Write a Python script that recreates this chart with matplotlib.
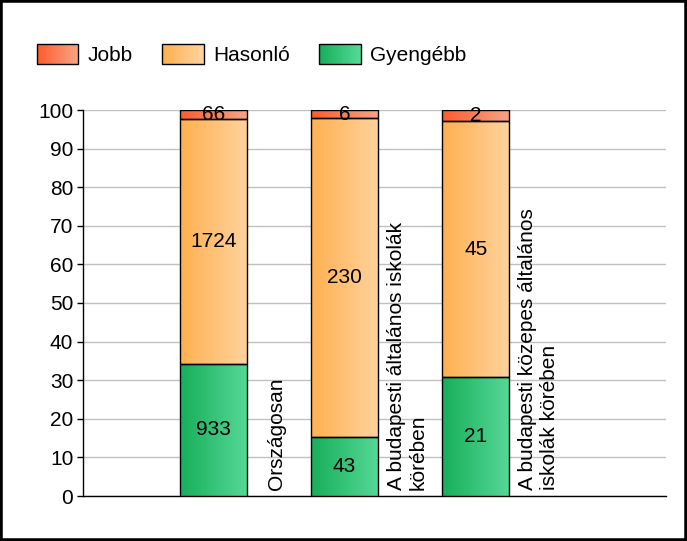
import numpy as np
import matplotlib
matplotlib.use("Agg")
import matplotlib.pyplot as plt
import matplotlib.patches as patches
from matplotlib.colors import LinearSegmentedColormap
from matplotlib.legend_handler import HandlerBase

plt.rcParams["font.family"] = ["Liberation Sans", "DejaVu Sans"]
plt.rcParams["font.size"] = 15

# Data
categories = [
    "Országosan",
    "A budapesti általános iskolák\nkörében",
    "A budapesti közepes általános\niskolák körében",
]
series_names = ["Jobb", "Hasonló", "Gyengébb"]
jobb = [66, 6, 2]
hasonlo = [1724, 230, 45]
gyengebb = [933, 43, 21]

# Gradient colours (left -> right) for each series
GRADIENTS = {
    "Jobb": ("#FF5C2C", "#F5A385"),
    "Hasonló": ("#FFB050", "#FFD29C"),
    "Gyengébb": ("#17AE5A", "#55D896"),
}


def make_cmap(name):
    return LinearSegmentedColormap.from_list(name, GRADIENTS[name])


# Legend handle drawn as a row of thin strips so it shows the same gradient
class GradientHandler(HandlerBase):
    def create_artists(self, legend, orig_handle, xdescent, ydescent, width, height, fontsize, trans):
        cmap = make_cmap(orig_handle.get_label())
        n = 24
        artists = []
        for k in range(n):
            r = patches.Rectangle((-xdescent + width * k / n, -ydescent), width / n + 0.3, height,
                                  facecolor=cmap(k / (n - 1)), edgecolor="none", transform=trans)
            artists.append(r)
        border = patches.Rectangle((-xdescent, -ydescent), width, height, facecolor="none",
                                   edgecolor="black", linewidth=1, transform=trans)
        artists.append(border)
        return artists


totals = np.array(jobb) + np.array(hasonlo) + np.array(gyengebb)
pct = {
    "Gyengébb": np.array(gyengebb) / totals * 100,
    "Hasonló": np.array(hasonlo) / totals * 100,
    "Jobb": np.array(jobb) / totals * 100,
}
counts = {"Gyengébb": gyengebb, "Hasonló": hasonlo, "Jobb": jobb}

fig = plt.figure(figsize=(6.87, 5.41), dpi=100)
fig.set_facecolor("white")
ax = fig.add_axes([83 / 687, 1 - 496 / 541, (666 - 83) / 687, (496 - 110) / 541])

x = np.arange(len(categories))
bar_width = 0.51
grad = np.linspace(0, 1, 256).reshape(1, -1)

# Stack from the bottom: Gyengébb, Hasonló, Jobb
bottom = np.zeros(len(categories))
for name in ["Gyengébb", "Hasonló", "Jobb"]:
    vals = pct[name]
    bars = ax.bar(x, vals, bar_width, bottom=bottom, facecolor="none",
                  edgecolor="black", linewidth=1, zorder=4)
    cmap = make_cmap(name)
    for bar in bars:
        bx, by = bar.get_x(), bar.get_y()
        bw, bh = bar.get_width(), bar.get_height()
        im = ax.imshow(grad, cmap=cmap, aspect="auto", extent=(bx, bx + bw, by, by + bh),
                       zorder=3, interpolation="bicubic")
        im.set_clip_path(bar)
    for i, bar in enumerate(bars):
        ax.text(bar.get_x() + bar.get_width() / 2, bar.get_y() + bar.get_height() / 2,
                str(counts[name][i]), ha="center", va="center", fontsize=15, zorder=5)
    bottom += vals

# Category labels rotated next to each bar
for i, lab in enumerate(categories):
    ax.text(i + 0.48, 1.5, lab, rotation=90, ha="center", va="bottom",
            fontsize=15, multialignment="left", zorder=5)

ax.set_xlim(-0.994, 3.45)
ax.set_ylim(0, 100)
ax.set_yticks(np.arange(0, 101, 10))
ax.set_xticks([])
ax.tick_params(axis="y", length=4, width=1, color="black", pad=3, labelsize=15)
ax.grid(axis="y", color="#C0C0C0", linewidth=1, zorder=0)
ax.set_axisbelow(True)
for side in ["top", "right"]:
    ax.spines[side].set_visible(False)
for side in ["left", "bottom"]:
    ax.spines[side].set_linewidth(1)
    ax.spines[side].set_color("black")

# Legend
handles = [patches.Rectangle((0, 0), 1, 1, label=n) for n in series_names]
fig.legend(handles=handles, labels=series_names, loc="upper left",
           bbox_to_anchor=(18 / 687, 1 - 25 / 541), ncol=3, frameon=False,
           handler_map={patches.Rectangle: GradientHandler()},
           handlelength=2.0, handleheight=1.1, handletextpad=0.45, columnspacing=1.4,
           fontsize=15)

# Black frame around the whole picture
fig.patches.append(patches.Rectangle((0, 0), 1, 1, transform=fig.transFigure,
                                     facecolor="none", edgecolor="black", linewidth=4))

fig.savefig("out.png", dpi=100, facecolor="white")
